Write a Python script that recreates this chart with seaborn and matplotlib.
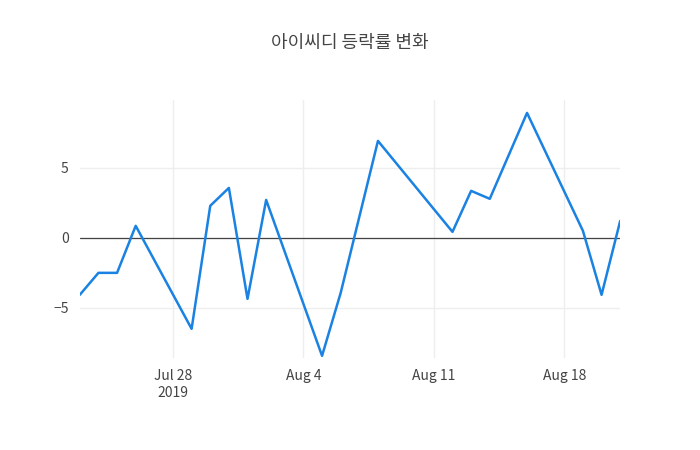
import pandas as pd
import numpy as np
import matplotlib
matplotlib.use("Agg")
import matplotlib.pyplot as plt
import matplotlib.dates as mdates
import seaborn as sns

dates = ["2019-07-23", "2019-07-24", "2019-07-25", "2019-07-26", "2019-07-29",
         "2019-07-30", "2019-07-31", "2019-08-01", "2019-08-02", "2019-08-05",
         "2019-08-06", "2019-08-08", "2019-08-12", "2019-08-13", "2019-08-14",
         "2019-08-16", "2019-08-19", "2019-08-20", "2019-08-21"]
rates = [-4.07, -2.5, -2.5, 0.86, -6.5, 2.29, 3.57, -4.36, 2.71, -8.43,
         -3.93, 6.93, 0.43, 3.36, 2.79, 8.93, 0.5, -4.07, 1.21]

df = pd.DataFrame({"date": pd.to_datetime(dates), "rate": rates})

sns.set_theme(style="white")
plt.rcParams['font.family'] = ['Noto Sans CJK KR', 'DejaVu Sans']

fig = plt.figure(figsize=(7, 4.5), dpi=100)
ax = fig.add_axes([0.114, 0.204, 0.772, 0.574])
sns.lineplot(data=df, x="date", y="rate", ax=ax, color="#1a82e2", linewidth=1.8)

ax.set_xlim(pd.Timestamp("2019-07-23"), pd.Timestamp("2019-08-21"))
ax.set_ylim(-8.6, 9.86)
ax.axhline(0, color="#444444", linewidth=0.9, zorder=1)

ticks = pd.to_datetime(["2019-07-28", "2019-08-04", "2019-08-11", "2019-08-18"])
ax.set_xticks(ticks)
ax.set_xticklabels(["Jul 28\n2019", "Aug 4", "Aug 11", "Aug 18"])
ax.set_yticks([-5, 0, 5])
ax.set_yticklabels(["\u22125", "0", "5"])
ax.grid(True, color="#eeeeee", linewidth=1)
ax.set_axisbelow(True)
for s in ax.spines.values():
    s.set_visible(False)
ax.tick_params(axis="both", length=0, labelsize=10, colors="#444444", pad=8)
ax.set_xlabel("")
ax.set_ylabel("")

fig.suptitle("아이씨디 등락률 변화", y=0.925, fontsize=13, color="#444444")
fig.savefig("out.png", dpi=100)
